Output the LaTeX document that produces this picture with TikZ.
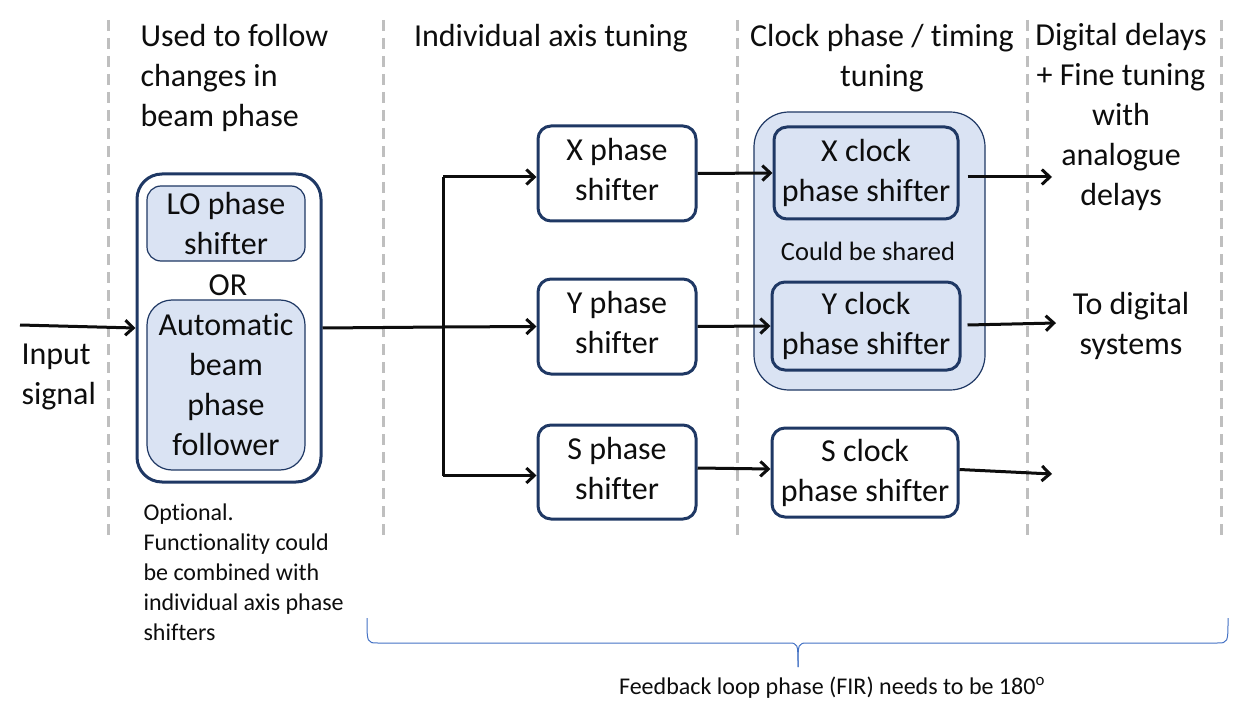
\documentclass[tikz,border=0pt]{standalone}
\usepackage{fontspec}
\setmainfont[Ligatures={NoCommon}]{Carlito}
\usetikzlibrary{arrows.meta}
\definecolor{navy}{HTML}{1F3864}
\definecolor{lightfill}{HTML}{DAE3F3}
\definecolor{guide}{HTML}{BFBFBF}
\definecolor{bracec}{HTML}{4472C4}
\definecolor{txt}{HTML}{0D0D0D}
\begin{document}
\begin{tikzpicture}[x=1pt,y=-1pt,
  every node/.style={text=txt},
  bigfont/.style={font=\fontsize{32}{40}\selectfont},
  midfont/.style={font=\fontsize{26.5}{33}\selectfont},
  smallfont/.style={font=\fontsize{24}{30}\selectfont},
  box/.style={draw=navy, line width=3pt, rounded corners=13pt, fill=white, align=center, inner sep=0pt, bigfont},
  subbox/.style={draw=navy, line width=1.2pt, rounded corners=14pt, fill=lightfill, align=center, inner sep=0pt, bigfont},
  clkbox/.style={box, fill=lightfill},
  guideline/.style={draw=guide, line width=3pt, dash pattern=on 11pt off 7pt},
  arr/.style={draw=txt, line width=3pt, -{Straight Barb[length=8pt,width=15pt,line width=3pt]}},
  wire/.style={draw=txt, line width=3pt}
]
\useasboundingbox (0,0) rectangle (1249,711);

% guide lines
\foreach \gx in {108,383,737,1027,1221}
  \draw[guideline] (\gx,20) -- (\gx,540);

% headers
\node[bigfont, anchor=west, align=left] (h1) at (137,78) {Used to follow\\changes in\\beam phase};
\node[bigfont] (h2) at (551,38) {Individual axis tuning};
\node[bigfont, align=center] (h3) at (882,58) {Clock phase / timing\\tuning};
\node[bigfont, align=center] (h4) at (1121,117) {Digital delays\\+ Fine tuning\\with\\analogue\\delays};

% left block
\node[box, rounded corners=25pt, minimum width=184pt, minimum height=308pt] (big) at (229,328) {};
\node[subbox, minimum width=158pt, minimum height=75pt] (lo) at (226,223.5) {LO phase\\shifter};
\node[bigfont] (or) at (228,285) {OR};
\node[subbox, rounded corners=25pt, minimum width=158pt, minimum height=170pt] (auto) at (226,385) {Automatic\\beam\\phase\\follower};

% input
\coordinate (in) at (20,325);
\draw[arr] (in) -- (big.west);
\node[bigfont, anchor=west, align=left] (inlab) at (18,377) {Input\\signal};

% phase shifters
\node[box, minimum width=158pt, minimum height=95pt] (xps) at (617,173.5) {X phase\\shifter\\[-32pt]\mbox{}};
\node[box, minimum width=158pt, minimum height=95pt] (yps) at (617,326.5) {Y phase\\shifter\\[-32pt]\mbox{}};
\node[box, minimum width=158pt, minimum height=94pt] (sps) at (617,472) {S phase\\shifter\\[-32pt]\mbox{}};

\coordinate (j) at (443,327);
\draw[wire] (big.east) -- (j);
\draw[wire] ([yshift=-3.5]j |- xps.west) -- ([yshift=-3.5]j |- sps.west);
\draw[arr] ([yshift=-3.5]j |- xps.west) -- ([yshift=-3.5]xps.west);
\draw[arr] (j) -- (yps.west);
\draw[arr] ([yshift=-3.5]j |- sps.west) -- ([yshift=-3.5]sps.west);

% shared container
\node[draw=navy, line width=1.2pt, fill=lightfill, rounded corners=35pt, minimum width=231pt, minimum height=278pt, inner sep=0pt] (shared) at (869.5,251) {};
\node[clkbox, minimum width=184pt, minimum height=92pt] (xc) at (866,173) {X clock\\phase shifter};
\node[clkbox, minimum width=188pt, minimum height=88pt] (yc) at (866,326) {Y clock\\phase shifter};
\node[midfont] (could) at (868,251) {Could be shared};
\node[box, minimum width=186pt, minimum height=89pt] (sc) at (865,472.5) {S clock\\phase shifter};

\draw[arr] (xps.east) -- (xc.west);
\draw[arr] (yps.east) -- (yc.west);
\draw[arr] ([yshift=4]sps.east) -- ([yshift=3.5]sc.west);

% outputs
\coordinate (ox) at (1052,177);
\coordinate (oy) at (1056,323);
\coordinate (os) at (1052,474);
\draw[arr] ([shift={(8,4)}]xc.east) -- (ox);
\draw[arr] ([shift={(6,-1)}]yc.east) -- (oy);
\draw[arr] ([yshift=3]sc.east) -- (os);
\node[bigfont, align=center] (todig) at (1131,326) {To digital\\systems};

% optional note
\node[smallfont, anchor=west, align=left] (opt) at (140,572) {Optional.\\Functionality could\\be combined with\\individual axis phase\\shifters};

% brace
\draw[draw=bracec, line width=1pt] (367,618) .. controls (367,643) .. (378,643) -- (788,643) .. controls (798,643) .. (798,667);
\draw[draw=bracec, line width=1pt] (798,667) .. controls (798,643) .. (808,643) -- (1217,643) .. controls (1228,643) .. (1228,618);
\node[smallfont] (fb) at (832,688) {Feedback loop phase (FIR) needs to be 180\textsuperscript{o}};
\end{tikzpicture}
\end{document}
